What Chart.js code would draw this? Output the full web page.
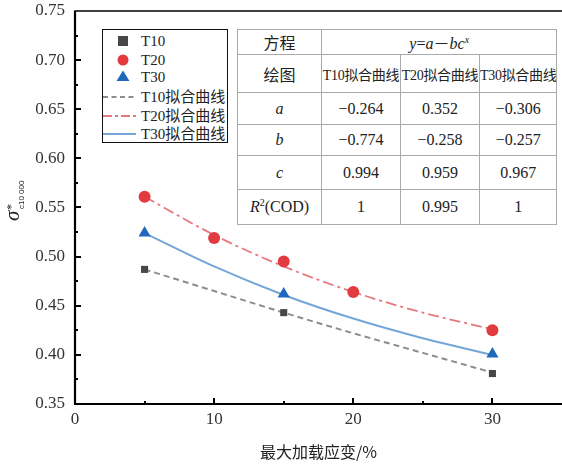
<!DOCTYPE html>
<html>
<head>
<meta charset="utf-8">
<script src="https://cdn.jsdelivr.net/npm/chart.js@4.4.1/dist/chart.umd.min.js"></script>
<style>
  html, body { margin: 0; padding: 0; background: #fff; overflow: hidden; }
  #wrap { position: relative; width: 562px; height: 466px; overflow: hidden; }
  #c { position: absolute; left: 0; top: 0; }
  #legend {
    position: absolute; left: 102px; top: 29px; width: 124px; height: 112px;
    border: 1.5px solid #111; background: #fff;
    font-family: "Liberation Serif", "Noto Sans CJK SC", serif; font-size: 15px; color: #222;
  }
  .lg-row { position: absolute; left: 0; height: 18px; line-height: 18px; width: 124px; }
  .lg-row svg { position: absolute; left: 0; top: 0; }
  .lg-row span { position: absolute; left: 38px; top: 0; white-space: nowrap; }
  #tbl {
    position: absolute; left: 237px; top: 29px; border-collapse: collapse; background: #fff;
    font-family: "Liberation Serif", "Noto Sans CJK SC", serif; color: #222; table-layout: fixed;
  }
  #tbl td { border: 1px solid #aaa; text-align: center; padding: 0; font-size: 16px; white-space: nowrap; overflow: hidden; }
  #tbl td.hd { font-size: 14px; letter-spacing: -0.3px; }
  #tbl i { font-style: italic; }
</style>
</head>
<body>
<div id="wrap">
  <canvas id="c" width="569" height="466"></canvas>
  <div id="legend"></div>
  <table id="tbl"></table>
</div>
<script>
// Measured strain levels and normalised strength values
const strainT20 = [5, 10, 15, 20, 30];
const strainT10 = [5, 15, 30];
const strainT30 = [5, 15, 30];
const valuesT10 = [0.487, 0.443, 0.381];
const valuesT20 = [0.561, 0.519, 0.495, 0.464, 0.425];
const valuesT30 = [0.524, 0.462, 0.401];

// Fitted curves sampled along the strain axis
const fitStrain = [5, 10, 15, 20, 25, 30];
const fitT10 = [0.487, 0.465, 0.443, 0.422, 0.402, 0.382];
const fitT20 = [0.561, 0.522, 0.490, 0.464, 0.443, 0.426];
const fitT30 = [0.524, 0.490, 0.461, 0.437, 0.417, 0.400];

// Axis ticks
const xTickLabels = [0, 10, 20, 30];
const yTickLabels = [0.35, 0.40, 0.45, 0.50, 0.55, 0.60, 0.65, 0.70, 0.75];

// Fit parameter table
const tableSeries = ["T10拟合曲线", "T20拟合曲线", "T30拟合曲线"];
const paramA = ["−0.264", "0.352", "−0.306"];
const paramB = ["−0.774", "−0.258", "−0.257"];
const paramC = ["0.994", "0.959", "0.967"];
const paramR2 = ["1", "0.995", "1"];

const seriesNames = ["T10", "T20", "T30", "T10拟合曲线", "T20拟合曲线", "T30拟合曲线"];

const C_T10 = "#474747", C_T20 = "#e23a3f", C_T30 = "#1f68bd";
const L_T10 = "#8c8c8c", L_T20 = "#e57a7e", L_T30 = "#74a6d8";

const SERIF = '"Liberation Serif", "Times New Roman", serif';

function pts(xs, ys) { return xs.map((x, i) => ({ x: x, y: ys[i] })); }

// Axes, inward tick marks, top frame line and the y-axis title
const axesPlugin = {
  id: "axesPlugin",
  afterDraw(chart) {
    const { ctx, chartArea: a, scales } = chart;
    const xs = scales.x, ys = scales.y;
    ctx.save();
    ctx.strokeStyle = "#000";
    ctx.lineWidth = 1.5;
    ctx.beginPath(); ctx.moveTo(a.left, a.top); ctx.lineTo(a.right, a.top); ctx.stroke();
    ctx.lineWidth = 2.2;
    ctx.beginPath();
    ctx.moveTo(a.left, a.top - 0.5); ctx.lineTo(a.left, a.bottom); ctx.lineTo(a.right, a.bottom);
    ctx.stroke();
    ctx.lineWidth = 2;
    for (let v = 5; v < 35; v += 5) {
      const px = Math.round(xs.getPixelForValue(v));
      const len = v % 10 === 0 ? 6 : 3;
      ctx.beginPath(); ctx.moveTo(px, a.bottom); ctx.lineTo(px, a.bottom - len); ctx.stroke();
    }
    for (let k = 1; k < 16; k++) {
      const v = 0.35 + k * 0.025;
      const py = Math.round(ys.getPixelForValue(v));
      const len = k % 2 === 0 ? 6 : 3;
      ctx.beginPath(); ctx.moveTo(a.left, py); ctx.lineTo(a.left + len, py); ctx.stroke();
    }
    // y-axis title: sigma*_{c10 000}
    ctx.translate(17, 200);
    ctx.rotate(-Math.PI / 2);
    ctx.fillStyle = "#222";
    ctx.textAlign = "left";
    ctx.textBaseline = "alphabetic";
    ctx.font = "italic 21px " + SERIF;
    ctx.fillText("σ", -21, 2);
    ctx.font = "12px " + SERIF;
    ctx.fillText("*", -10, -2);
    ctx.font = '8px "Liberation Sans", sans-serif';
    ctx.fillText("c10 000", -9, 7);
    ctx.restore();
  }
};

const tickFont = { family: SERIF, size: 17 };

function drawChart() {
  new Chart(document.getElementById("c"), {
    type: "scatter",
    data: {
      datasets: [
        { label: seriesNames[0], data: pts(strainT10, valuesT10), pointStyle: "rect", pointRadius: 5, backgroundColor: C_T10, borderColor: C_T10, borderWidth: 0, order: 0 },
        { label: seriesNames[1], data: pts(strainT20, valuesT20), pointStyle: "circle", pointRadius: 6, backgroundColor: C_T20, borderColor: C_T20, borderWidth: 0, order: 0 },
        { label: seriesNames[2], data: pts(strainT30, valuesT30), pointStyle: "triangle", pointRadius: 7, backgroundColor: C_T30, borderColor: C_T30, borderWidth: 0, order: 0 },
        { label: seriesNames[3], data: pts(fitStrain, fitT10), showLine: true, pointRadius: 0, borderColor: L_T10, borderWidth: 2, borderDash: [6, 4], tension: 0.4, cubicInterpolationMode: "monotone", order: 1 },
        { label: seriesNames[4], data: pts(fitStrain, fitT20), showLine: true, pointRadius: 0, borderColor: L_T20, borderWidth: 1.8, borderDash: [11, 4, 3, 4], tension: 0.4, cubicInterpolationMode: "monotone", order: 1 },
        { label: seriesNames[5], data: pts(fitStrain, fitT30), showLine: true, pointRadius: 0, borderColor: L_T30, borderWidth: 2, tension: 0.4, cubicInterpolationMode: "monotone", order: 1 }
      ]
    },
    options: {
      responsive: false,
      animation: false,
      events: [],
      layout: { padding: { top: 11, right: 0, left: 0, bottom: 0 } },
      plugins: { legend: { display: false }, tooltip: { enabled: false } },
      scales: {
        x: {
          type: "linear", min: 0, max: 35,
          grid: { display: false, drawTicks: false },
          border: { display: false },
          afterBuildTicks(s) { s.ticks = xTickLabels.map(v => ({ value: v })); },
          afterFit(s) { s.height = 62; s.paddingLeft = 0; s.paddingRight = 0; },
          ticks: { font: tickFont, color: "#333", padding: 5, maxRotation: 0, callback: v => String(v) },
          title: { display: true, text: "最大加载应变/%", font: { family: '"Noto Sans CJK SC", sans-serif', size: 16 }, color: "#222", padding: { top: 6 } }
        },
        y: {
          type: "linear", min: 0.35, max: 0.75,
          grid: { display: false, drawTicks: false },
          border: { display: false },
          afterBuildTicks(s) { s.ticks = yTickLabels.map(v => ({ value: v })); },
          afterFit(s) { s.width = 75; s.paddingTop = 0; s.paddingBottom = 0; },
          ticks: { font: tickFont, color: "#333", padding: 10, callback: v => Number(v).toFixed(2) }
        }
      }
    },
    plugins: [axesPlugin]
  });
}

// Legend
const legend = document.getElementById("legend");
const rowTops = [2, 20.5, 38, 58, 76.5, 95];
const swatches = [
  `<rect x="15" y="4" width="10" height="10" fill="${C_T10}"/>`,
  `<circle cx="20" cy="9" r="5.5" fill="${C_T20}"/>`,
  `<polygon points="20,2.5 26.5,13 13.5,13" fill="${C_T30}"/>`,
  `<line x1="0" y1="9" x2="33" y2="9" stroke="${L_T10}" stroke-width="2" stroke-dasharray="5,3.5"/>`,
  `<line x1="0" y1="9" x2="33" y2="9" stroke="${L_T20}" stroke-width="2" stroke-dasharray="9,3,3,3"/>`,
  `<line x1="0" y1="9" x2="33" y2="9" stroke="${L_T30}" stroke-width="2"/>`
];
seriesNames.forEach((name, i) => {
  const row = document.createElement("div");
  row.className = "lg-row";
  row.style.top = rowTops[i] + "px";
  row.innerHTML = `<svg width="36" height="18">${swatches[i]}</svg><span>${name}</span>`;
  legend.appendChild(row);
});

// Parameter table
const colW = [84, 79, 79, 77];
const rowH = [23, 38, 32, 31, 34, 35];
const tbl = document.getElementById("tbl");
let html = "<colgroup>" + colW.map(w => `<col style="width:${w}px">`).join("") + "</colgroup>";
html += `<tr style="height:${rowH[0]}px"><td>方程</td><td colspan="3"><i>y</i>=<i>a</i>－<i>bc</i><sup style="font-size:10px"><i>x</i></sup></td></tr>`;
html += `<tr style="height:${rowH[1]}px"><td>绘图</td>` + tableSeries.map(s => `<td class="hd">${s}</td>`).join("") + "</tr>";
const rows = [["<i>a</i>", paramA], ["<i>b</i>", paramB], ["<i>c</i>", paramC], ["<i>R</i><sup style=\"font-size:10px\">2</sup>(COD)", paramR2]];
rows.forEach((r, i) => {
  html += `<tr style="height:${rowH[i + 2]}px"><td>${r[0]}</td>` + r[1].map(v => `<td>${v}</td>`).join("") + "</tr>";
});
tbl.innerHTML = html;

const fontReqs = [
  '17px "Liberation Serif"',
  'italic 21px "Liberation Serif"',
  '8px "Liberation Sans"'
].map(f => document.fonts.load(f, "0.1σ*"));
fontReqs.push(document.fonts.load('16px "Noto Sans CJK SC"', "最大加载应变"));
Promise.all(fontReqs).then(drawChart, drawChart);
</script>
</body>
</html>
